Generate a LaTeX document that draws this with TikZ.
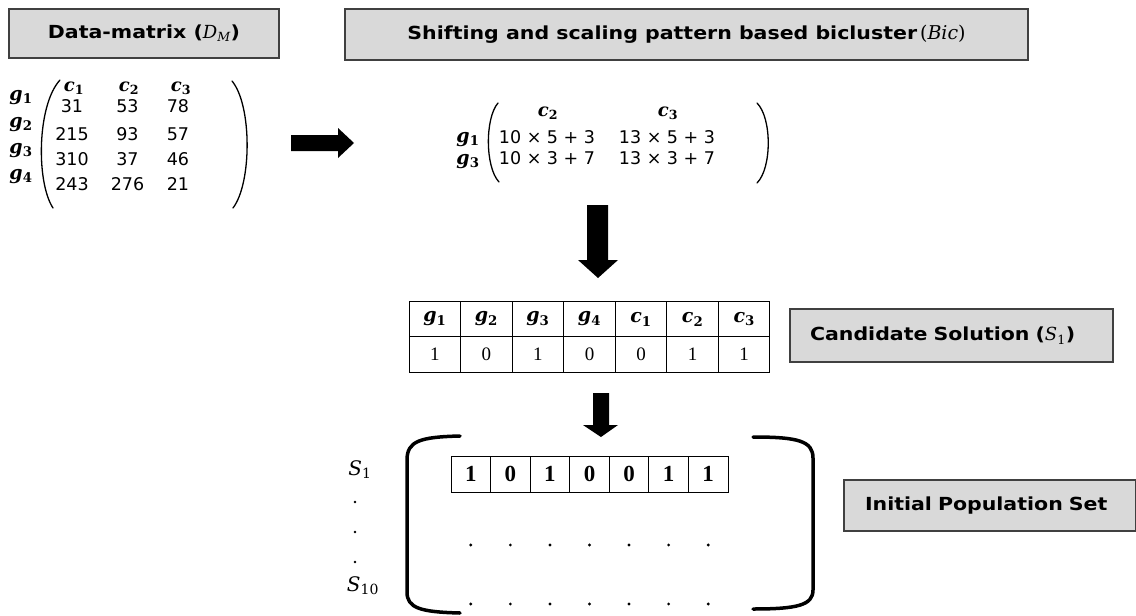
\documentclass[tikz,border=0pt]{standalone}
\usepackage{fontspec}
\newfontfamily\headfont{DejaVu Sans}[FakeStretch=1.14]
\newfontfamily\numfont{DejaVu Sans}
\newfontfamily\symfont{DejaVu Serif}
\newfontfamily\cellfont{Liberation Serif}
% bold italic symbol with upright bold index, and plain italic symbol with index
\newcommand\bsym[2]{{\symfont\bfseries\itshape #1\textsubscript{\upshape #2}}}
\newcommand\isym[2]{{\symfont\mdseries\itshape #1\textsubscript{\upshape #2}}}
\begin{document}
\begin{tikzpicture}[x=1pt,y=-1pt]
\tikzset{
  titlebox/.style={draw=black!75, line width=1.2pt, fill=black!15, inner sep=0pt,
    font=\headfont\bfseries\fontsize{18}{21}\selectfont},
  mnum/.style={anchor=base, inner sep=0pt, font=\numfont\fontsize{17.5}{20}\selectfont},
  mlab/.style={anchor=base, inner sep=0pt, font=\fontsize{19}{23}\selectfont},
  paren/.style={line width=1.3pt, line cap=round},
  hcell/.style={draw, line width=1pt, minimum width=51.57pt, minimum height=35.5pt,
    inner sep=0pt, font=\fontsize{19}{22}\selectfont},
  vcell/.style={hcell, font=\cellfont\fontsize{19}{22}\selectfont},
  pcell/.style={draw, line width=0.9pt, minimum width=39.57pt, minimum height=36pt,
    inner sep=0pt, font=\cellfont\bfseries\fontsize{23}{26}\selectfont},
  bracket/.style={line width=3.5pt, line cap=round},
  blockarrow/.style={fill=black},
  pdot/.style={fill=black, circle, inner sep=0pt, minimum size=3.2pt},
}
\useasboundingbox (0,0) rectangle (1136,616);

% ---- titles ----
\node[titlebox, minimum width=270pt, minimum height=49pt] (dm) at (144,33.5)
  {Data-matrix (\isym{D}{\itshape M})};
\node[titlebox, minimum width=683pt, minimum height=51pt] (bic) at (686.5,34.5)
  {Shifting and scaling pattern based bicluster\,{\symfont\mdseries\fontsize{19}{21}\selectfont(\itshape Bic\/\upshape)}};
\node[titlebox, minimum width=323pt, minimum height=53pt, text width=283pt, align=left,
  inner xsep=20pt] (cand) at (951.5,335.5) {Candidate Solution (\isym{S}{1})};
\node[titlebox, minimum width=292pt, minimum height=51pt, text width=250pt, align=left,
  inner xsep=21pt] (pop) at (990,505.5) {Initial Population Set};

% ---- data matrix ----
\foreach \k/\x in {1/74,2/129,3/181}
  \node[mlab, font=\fontsize{18}{22}\selectfont] (dc\k) at (\x,91) {\bsym{c}{\k}};
\foreach \k/\y in {1/100,2/127,3/153,4/179}
  \node[mlab] (dg\k) at (21,\y) {\bsym{g}{\k}};
\foreach \r/\y/\a/\b/\c in {1/112/31/53/78, 2/140/215/93/57, 3/165/310/37/46, 4/190/243/276/21}{
  \node[mnum] (d\r a) at (72,\y) {\a};
  \node[mnum] (d\r b) at (127.5,\y) {\b};
  \node[mnum] (d\r c) at (178,\y) {\c};
}
\draw[paren] (60,80) .. controls (37,105) and (36,182) .. (53,208);
\draw[paren] (232,81) .. controls (252,105) and (252,183) .. (233,208);

% ---- bicluster matrix ----
\node[mlab, font=\fontsize{18}{22}\selectfont] (bc2) at (548,116) {\bsym{c}{2}};
\node[mlab, font=\fontsize{18}{22}\selectfont] (bc3) at (668,116) {\bsym{c}{3}};
\node[mlab] (bg1) at (468,142) {\bsym{g}{1}};
\node[mlab] (bg3) at (468,164) {\bsym{g}{3}};
\node[mnum] (b11) at (547,143) {10 × 5 + 3};
\node[mnum] (b12) at (667,143) {13 × 5 + 3};
\node[mnum] (b21) at (547,164) {10 × 3 + 7};
\node[mnum] (b22) at (667,164) {13 × 3 + 7};
\draw[paren] (498,103) .. controls (485,118) and (485,167) .. (499,182);
\draw[paren] (757,103) .. controls (772,118) and (772,168) .. (757,183);

% ---- block arrows ----
\fill[blockarrow] (291,135) -- (338,135) -- (338,128) -- (354,143) -- (338,158)
  -- (338,151) -- (291,151) -- cycle;
\fill[blockarrow] (587,205) -- (608,205) -- (608,260) -- (618,260) -- (598,278)
  -- (578,260) -- (587,260) -- cycle;
\fill[blockarrow] (593,393) -- (609,393) -- (609,425) -- (618,425) -- (601,437)
  -- (583,425) -- (593,425) -- cycle;

% ---- candidate solution table ----
\foreach \k/\h/\i/\v [evaluate=\k as \cx using 409+51.57*(\k-0.5)] in
  {1/g/1/1, 2/g/2/0, 3/g/3/1, 4/g/4/0, 5/c/1/0, 6/c/2/1, 7/c/3/1}{
  \node[hcell] (h\k) at (\cx,319) {\bsym{\h}{\i}};
  \node[vcell] (v\k) at (\cx,354.5) {\v};
}

% ---- population ----
\draw[bracket] (460,436) .. controls (420,437) and (407,441) .. (407,460)
  -- (407,592) .. controls (407,608) and (420,612) .. (460,613);
\draw[bracket] (753,437) .. controls (798,437) and (813,441) .. (813,458)
  -- (813,590) .. controls (813,605) and (798,609) .. (753,609);
\foreach \k/\v [evaluate=\k as \cx using 451+39.57*(\k-0.5)] in
  {1/1,2/0,3/1,4/0,5/0,6/1,7/1}{
  \node[pcell] (p\k) at (\cx,474) {\v};
  \node[pdot] (q\k) at (\cx,545) {};
  \node[pdot] (r\k) at (\cx,604) {};
}
\node[mlab, font=\fontsize{20}{24}\selectfont] (s1) at (360,475) {\isym{S}{1}};
\node[mlab, font=\fontsize{20}{24}\selectfont] (s10) at (363,591) {\isym{S}{10}};
\foreach \k/\y in {1/502,2/532,3/562}
  \node[pdot, minimum size=2.6pt] (sd\k) at (355,\y) {};
\end{tikzpicture}
\end{document}
